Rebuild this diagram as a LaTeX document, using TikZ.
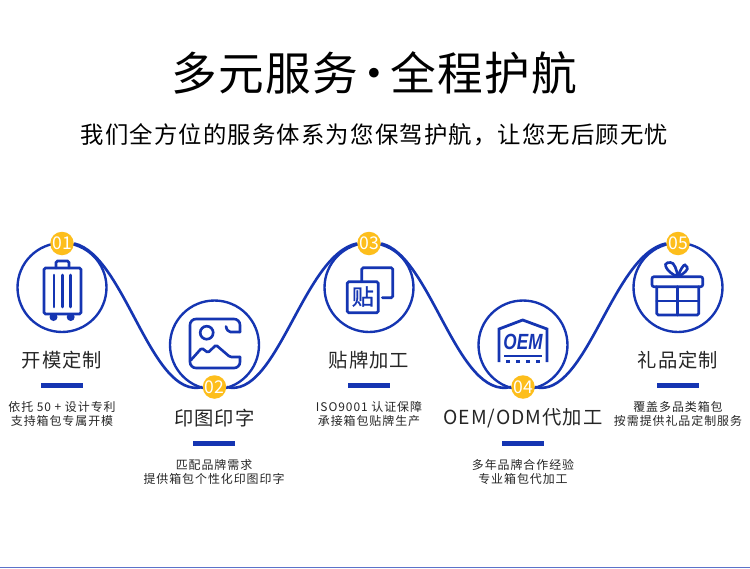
\documentclass[tikz,border=0pt]{standalone}
\usepackage{fontspec}
\usepackage{xcolor}
\usepackage{tikz}
\setmainfont{Noto Sans CJK SC}
\newfontfamily\oemfont[FakeStretch=0.78]{Liberation Sans}
\newfontfamily\stickerfont[FakeBold=0.7]{Noto Sans CJK SC}
\definecolor{brandblue}{HTML}{1535B2}
\definecolor{badgegold}{HTML}{FDBE1C}
\definecolor{inktext}{HTML}{262626}
\tikzset{
	ring/.style = {draw = brandblue, circle, line width = 1.35pt, minimum size = 1.78cm, inner sep = 0pt},
	badge/.style = {fill = badgegold, circle, minimum size = 0.47cm, inner sep = 0pt, text = white, font = \fontsize{10}{10}\selectfont},
	wave/.style = {draw = brandblue, line width = 1.5pt},
	icon/.style = {draw = brandblue, line width = 1.5pt, rounded corners = 0.03cm, line cap = round},
	heading/.style = {text = inktext, font = \fontsize{11}{12}\selectfont\addfontfeature{LetterSpace=5}},
	rule/.style = {fill = brandblue, minimum width = 0.84cm, minimum height = 0.1cm, inner sep = 0pt},
	blurb/.style = {text = inktext, align = center, font = \fontsize{6.8}{8}\selectfont\addfontfeature{LetterSpace=8}}
}

\begin{document}
\begin{tikzpicture}[x = 0.02cm, y = -0.02cm]
	\useasboundingbox [fill = white] (0,0) rectangle (750,568);
	\fill [color = brandblue!70!white] (0,567) rectangle (750,568);

	\node (title) at (374.5,73) {\fontsize{26}{30}\selectfont\addfontfeature{LetterSpace=3}多元服务\hspace*{-3.9pt}·\hspace*{-3.9pt}全程护航};
	\node (subtitle) at (374.5,135) {\fontsize{13.3}{15}\selectfont\addfontfeature{LetterSpace=5}我们全方位的服务体系为您保驾护航，让您无后顾无忧};

	\node [ring] (ring1) at (62,287.5) {};
	\node [ring] (ring2) at (214.5,345) {};
	\node [ring] (ring3) at (369,287.5) {};
	\node [ring] (ring4) at (523,345) {};
	\node [ring] (ring5) at (678,287.5) {};

	\node [badge] (num1) at (62,243.5) {01};
	\node [badge] (num2) at (214.5,387) {02};
	\node [badge] (num3) at (369,243.5) {03};
	\node [badge] (num4) at (523,387) {04};
	\node [badge] (num5) at (678,243.5) {05};

	\draw [wave] (num1.east) .. controls (125,255) and (151,400) .. (num2.west);
	\draw [wave] (num2.east) .. controls (277,400) and (303,255) .. (num3.west);
	\draw [wave] (num3.east) .. controls (431,255) and (457,400) .. (num4.west);
	\draw [wave] (num4.east) .. controls (586,400) and (612,255) .. (num5.west);

	\node [heading] (head1) at (62,360) {开模定制};
	\node [heading] (head2) at (214.5,418) {印图印字};
	\node [heading] (head3) at (369,360) {贴牌加工};
	\node [heading] (head4) at (523,418) {OEM/ODM代加工};
	\node [heading] (head5) at (678,360) {礼品定制};

	\node [rule] (rule1) at (62,385) {};
	\node [rule] (rule2) at (214,443) {};
	\node [rule] (rule3) at (369,385) {};
	\node [rule] (rule4) at (523,443) {};
	\node [rule] (rule5) at (678,385) {};

	\node [blurb] (text1) at (62,414) {依托 50 + 设计专利\\支持箱包专属开模};
	\node [blurb] (text2) at (214,472) {匹配品牌需求\\提供箱包个性化印图印字};
	\node [blurb] (text3) at (369,414) {ISO9001 认证保障\\承接箱包贴牌生产};
	\node [blurb] (text4) at (523,472) {多年品牌合作经验\\专业箱包代加工};
	\node [blurb] (text5) at (678,414) {覆盖多品类箱包\\按需提供礼品定制服务};

	\draw [icon] (44,268) rectangle (81,314);
	\draw [icon] (56,268) -- (56,261) -- (69,261) -- (69,268);
	\draw [icon] (54,275) -- (54,307);
	\draw [icon] (62.3,275) -- (62.3,307);
	\draw [icon] (70.7,275) -- (70.7,307);
	\fill [brandblue] (53.5,317) circle (4);
	\fill [brandblue] (70.7,317) circle (4);

	\draw [icon] (226,326.5) .. controls (226.5,330) and (229,332) .. (232,332) -- (240,332);
	\draw [icon, rounded corners = 0.12cm] (240,332) -- (240,319) -- (190,319) -- (190,368) -- (240,368) -- (240,357);
	\draw [icon] (240,357) -- (230,357) -- (216,345) -- (208,352.7) -- (201.7,348) -- (191,360);
	\draw [icon] (206.7,332.7) circle (6.5);

	\draw [icon] (361.7,281.7) -- (361.7,267.7) -- (392.7,267.7) -- (392.7,297.7) -- (382.3,297.7);
	\draw [icon] (347.3,281.7) rectangle (378.3,312.7);
	\node [text = brandblue, font = \stickerfont\fontsize{12.6}{13}\selectfont] (sticker) at (362.8,296.5) {贴};

	\draw [icon, line width = 1.6pt, rounded corners = 0pt, line cap = butt] (499,362) -- (499,329) -- (522.7,320) -- (547,329) -- (547,362);
	\node [text = brandblue, font = \oemfont\fontsize{12.5}{13}\selectfont\bfseries\itshape, inner sep = 0pt] (oem) at (523,342) {OEM};
	\draw [icon, line width = 1.6pt, line cap = butt] (504,356) -- (541.7,356);
	\fill [brandblue] (505.5,359.5) rectangle (509.5,362.5);
	\fill [brandblue] (515.7,359.5) rectangle (519.7,362.5);
	\fill [brandblue] (526,359.5) rectangle (530,362.5);
	\fill [brandblue] (536.3,359.5) rectangle (540.3,362.5);

	\draw [icon, rounded corners = 0.04cm] (652,276.7) rectangle (702.7,286.7);
	\draw [icon] (656.7,286.7) -- (656.7,315) -- (698.7,315) -- (698.7,286.7);
	\draw [icon] (677.7,286.7) -- (677.7,315);
	\draw [icon] (656.7,301) -- (698.7,301);
	\draw [icon] (677.7,276.7) .. controls (666,272) and (663,263) .. (669,262.7) .. controls (674,262) and (677,270) .. (677.7,276.7);
	\draw [icon] (677.7,276.7) .. controls (680,270) and (684,264) .. (686,266) .. controls (689,269) and (684,274) .. (677.7,276.7);
\end{tikzpicture}
\end{document}
